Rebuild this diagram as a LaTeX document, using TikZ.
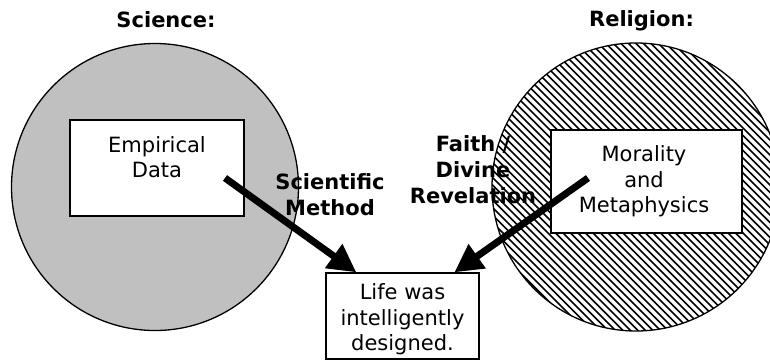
\documentclass[tikz,border=0pt]{standalone}
\usepackage{fontspec}
\setmainfont{DejaVu Sans}
\usetikzlibrary{arrows.meta,calc}
\begin{document}
\begin{tikzpicture}[x=1pt,y=-1pt,
  txt/.style={font=\fontsize{21}{25.5}\selectfont, align=center, inner sep=0pt},
  btxt/.style={font=\fontsize{21}{26}\selectfont\bfseries, align=center, inner sep=0pt},
  box/.style={draw=black, line width=1.3pt, fill=white, inner sep=0pt},
  ring/.style={draw=black, line width=1.3pt},
  bigarrow/.style={line width=7pt, -{Triangle[length=28pt,width=28pt]}}]
\useasboundingbox (0,0) rectangle (770,360);
% left circle (science)
\node[ring, circle, fill={rgb,255:red,192;green,192;blue,192}, minimum size=287pt] (sci) at (155,187) {};
% right circle (religion), hatched
\node[circle, minimum size=288pt, inner sep=0pt] (rel) at (636,187) {};
\begin{scope}
  \clip (636,187) circle (144);
  \foreach \c in {150,157.5,...,760} {
    \draw[line width=1.6pt] (\c+40,40) -- (\c+340,340);
  }
\end{scope}
\draw[ring] (rel.center) circle (144);
% boxes
\node[box, minimum width=174pt, minimum height=96pt] (emp) at (157,168) {};
\node[txt] (empt) at (157,157) {Empirical\\Data};
\node[box, minimum width=191pt, minimum height=103pt] (mor) at (646.5,181.5) {};
\node[txt] (mort) at (644,181.5) {Morality\\and\\Metaphysics};
\node[box, minimum width=153pt, minimum height=86pt] (life) at (402.5,316) {};
\node[txt] (lifet) at (402.5,319.5) {Life was\\intelligently\\designed.};
% titles
\node[btxt] (scil) at (166,19.5) {Science:};
\node[btxt] (rell) at (641.5,21) {Religion:};
% arrows
\coordinate (a1s) at (225,178);
\coordinate (a1e) at ($(life.north west)+(31,0)$);
\coordinate (a2s) at (588,178);
\coordinate (a2e) at ($(life.north west)+(129,0)$);
\draw[bigarrow] (a1s) -- (a1e);
\draw[bigarrow] (a2s) -- (a2e);
% arrow labels
\node[btxt] (sm) at (330,195) {Scientific\\Method};
\node[btxt] (fd) at (473,170) {Faith /\\Divine\\Revelation};
\end{tikzpicture}
\end{document}
